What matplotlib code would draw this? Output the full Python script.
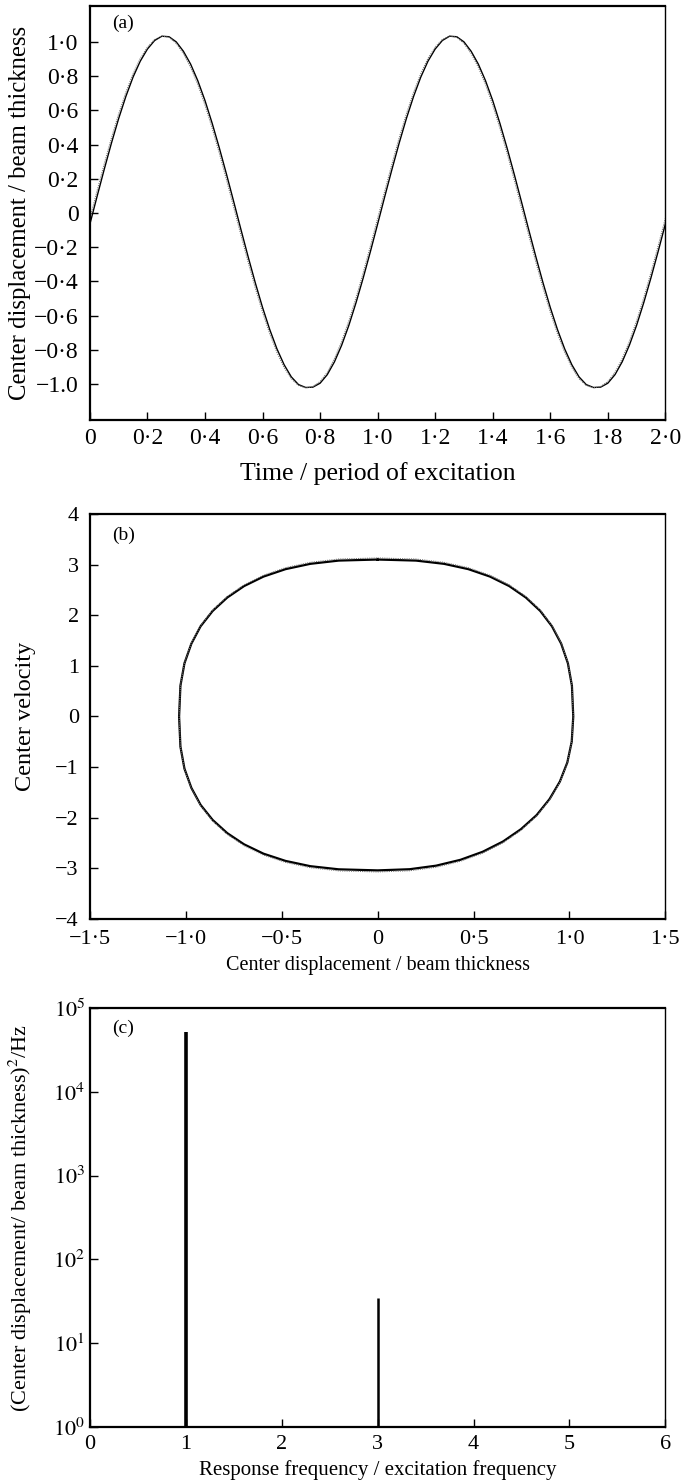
import numpy as np
import matplotlib.pyplot as plt

plt.rcParams['font.family'] = ['Liberation Serif', 'DejaVu Serif']
plt.rcParams['mathtext.fontset'] = 'stix'

# (a) time history, t = 0 .. 2 periods
t = np.linspace(0, 2, 81)
disp_a = [-0.065, 0.097, 0.256, 0.409, 0.552, 0.681, 0.794, 0.887, 0.958, 1.008,
          1.033, 1.030, 1.000, 0.945, 0.870, 0.773, 0.657, 0.524, 0.379, 0.225,
          0.065, -0.097, -0.256, -0.409, -0.552, -0.681, -0.794, -0.887, -0.958, -1.003,
          -1.020, -1.018, -0.995, -0.945, -0.870, -0.773, -0.657, -0.524, -0.379, -0.225,
          -0.065, 0.097, 0.256, 0.409, 0.552, 0.681, 0.794, 0.887, 0.958, 1.008,
          1.033, 1.030, 1.000, 0.945, 0.870, 0.773, 0.657, 0.524, 0.379, 0.225,
          0.065, -0.097, -0.256, -0.409, -0.552, -0.681, -0.794, -0.887, -0.958, -1.003,
          -1.020, -1.018, -0.995, -0.945, -0.870, -0.773, -0.657, -0.524, -0.379, -0.225,
          -0.065]
disp_a2 = [-0.032, 0.129, 0.287, 0.439, 0.579, 0.705, 0.814, 0.903, 0.969, 1.014,
           1.034, 1.027, 0.991, 0.932, 0.852, 0.751, 0.631, 0.496, 0.349, 0.193,
           0.032, -0.129, -0.287, -0.439, -0.579, -0.705, -0.814, -0.903, -0.969, -1.008,
           -1.022, -1.015, -0.985, -0.932, -0.852, -0.751, -0.631, -0.496, -0.349, -0.193,
           -0.032, 0.129, 0.287, 0.439, 0.579, 0.705, 0.814, 0.903, 0.969, 1.014,
           1.034, 1.027, 0.991, 0.932, 0.852, 0.751, 0.631, 0.496, 0.349, 0.193,
           0.032, -0.129, -0.287, -0.439, -0.579, -0.705, -0.814, -0.903, -0.969, -1.008,
           -1.022, -1.015, -0.985, -0.932, -0.852, -0.751, -0.631, -0.496, -0.349, -0.193,
           -0.032]
yt_a = [-1.0, -0.8, -0.6, -0.4, -0.2, 0, 0.2, 0.4, 0.6, 0.8, 1.0]
yl_a = ['\u22121.0', '\u22120\u00b78', '\u22120\u00b76', '\u22120\u00b74', '\u22120\u00b72', '0',
        '0\u00b72', '0\u00b74', '0\u00b76', '0\u00b78', '1\u00b70']
xt_a = [0, 0.2, 0.4, 0.6, 0.8, 1.0, 1.2, 1.4, 1.6, 1.8, 2.0]
xl_a = ['0', '0\u00b72', '0\u00b74', '0\u00b76', '0\u00b78', '1\u00b70',
        '1\u00b72', '1\u00b74', '1\u00b76', '1\u00b78', '2\u00b70']

# (b) phase portrait, clockwise from the top
px = [0.0, 0.200, 0.346, 0.473, 0.586, 0.686, 0.773, 0.848, 0.909, 0.957, 0.992, 1.013,
      1.020, 1.012, 0.989, 0.950, 0.896, 0.829, 0.747, 0.654, 0.548, 0.432, 0.305, 0.167,
      0.0, -0.203, -0.351, -0.480, -0.595, -0.696, -0.784, -0.860, -0.923, -0.971, -1.007, -1.028,
      -1.035, -1.028, -1.007, -0.971, -0.923, -0.860, -0.784, -0.696, -0.595, -0.480, -0.351, -0.203,
      0.0]
pv = [3.10, 3.079, 3.015, 2.910, 2.763, 2.576, 2.349, 2.084, 1.781, 1.438, 1.051, 0.608,
      0.0, -0.497, -0.909, -1.287, -1.633, -1.948, -2.227, -2.469, -2.672, -2.831, -2.947, -3.017,
      -3.04, -3.019, -2.957, -2.853, -2.710, -2.526, -2.304, -2.044, -1.746, -1.410, -1.031, -0.596,
      0.0, 0.608, 1.051, 1.438, 1.781, 2.084, 2.349, 2.576, 2.763, 2.910, 3.015, 3.079,
      3.10]
pv2 = [3.13, 3.109, 3.044, 2.938, 2.789, 2.600, 2.370, 2.102, 1.796, 1.450, 1.060, 0.613,
       0.0, -0.502, -0.918, -1.300, -1.649, -1.967, -2.249, -2.494, -2.699, -2.859, -2.977, -3.047,
       -3.07, -3.049, -2.986, -2.881, -2.737, -2.551, -2.327, -2.064, -1.763, -1.424, -1.041, -0.602,
       0.0, 0.613, 1.060, 1.450, 1.796, 2.102, 2.370, 2.600, 2.789, 2.938, 3.044, 3.109,
       3.13]
xt_b = [-1.5, -1.0, -0.5, 0, 0.5, 1.0, 1.5]
xl_b = ['\u22121\u00b75', '\u22121\u00b70', '\u22120\u00b75', '0', '0\u00b75', '1\u00b70', '1\u00b75']
yt_b = [-4, -3, -2, -1, 0, 1, 2, 3, 4]
yl_b = ['\u22124', '\u22123', '\u22122', '\u22121', '0', '1', '2', '3', '4']

# (c) spectrum
freq = [1, 3]
psd = [5.2e4, 35]
lw_c = [2.6, 1.8]

fig = plt.figure(figsize=(6.81, 14.82), dpi=100)
left, width = 0.132, 0.845
ax1 = fig.add_axes([left, 0.7166, width, 0.2794])
ax2 = fig.add_axes([left, 0.3799, width, 0.2733])
ax3 = fig.add_axes([left, 0.0371, width, 0.2827])

for ax in (ax1, ax2, ax3):
    ax.tick_params(direction='in', length=6, width=1, top=False, right=False)
    for s in ax.spines.values():
        s.set_linewidth(1.6)
    ax.spines['right'].set_linewidth(1.0)

# (a)
ax1.plot(t, disp_a, color='black', lw=1.0)
ax1.plot(t, disp_a2, color='0.45', lw=0.8, ls=(0, (1, 1)))
ax1.set_xlim(0, 2)
ax1.set_ylim(-1.21, 1.21)
ax1.set_xticks(xt_a, xl_a)
ax1.set_yticks(yt_a, yl_a)
ax1.tick_params(axis='both', labelsize=17)
ax1.tick_params(axis='y', pad=8)
ax1.tick_params(axis='x', pad=6)
ax1.set_xlabel('Time / period of excitation', fontsize=18.5, labelpad=9)
ax1.set_ylabel('Center displacement / beam thickness', fontsize=17.8, labelpad=2)
ax1.text(0.038, 0.957, '(a)', transform=ax1.transAxes, fontsize=14, va='center')

# (b)
ax2.plot(px, pv, color='black', lw=1.6)
ax2.plot(px, pv2, color='0.45', lw=0.8, ls=(0, (1, 1)))
ax2.set_xlim(-1.5, 1.5)
ax2.set_ylim(-4, 4)
ax2.set_xticks(xt_b, xl_b)
ax2.set_yticks(yt_b, yl_b)
ax2.tick_params(axis='both', labelsize=16)
ax2.tick_params(axis='y', pad=8)
ax2.tick_params(axis='x', pad=8)
ax2.set_xlabel('Center displacement / beam thickness', fontsize=14.5, labelpad=5)
ax2.set_ylabel('Center velocity', fontsize=17.5, labelpad=14)
ax2.text(0.038, 0.948, '(b)', transform=ax2.transAxes, fontsize=14, va='center')

# (c)
ax3.vlines(freq, 1, psd, colors='black', lw=lw_c)
ax3.set_yscale('log')
ax3.set_xlim(0, 6)
ax3.set_ylim(1, 1e5)
ax3.set_xticks(range(7))
ax3.set_yticks([1, 10, 100, 1e3, 1e4, 1e5], [r'$10^{0}$', r'$10^{1}$', r'$10^{2}$', r'$10^{3}$', r'$10^{4}$', r'$10^{5}$'])
ax3.minorticks_off()
ax3.tick_params(axis='both', labelsize=16)
ax3.tick_params(axis='x', pad=6)
ax3.set_xlabel('Response frequency / excitation frequency', fontsize=15, labelpad=4)
ax3.set_ylabel(r'(Center displacement/ beam thickness)$^2$/Hz', fontsize=16, labelpad=14)
ax3.text(0.038, 0.952, '(c)', transform=ax3.transAxes, fontsize=14, va='center')

fig.savefig('out.png', dpi=100)
